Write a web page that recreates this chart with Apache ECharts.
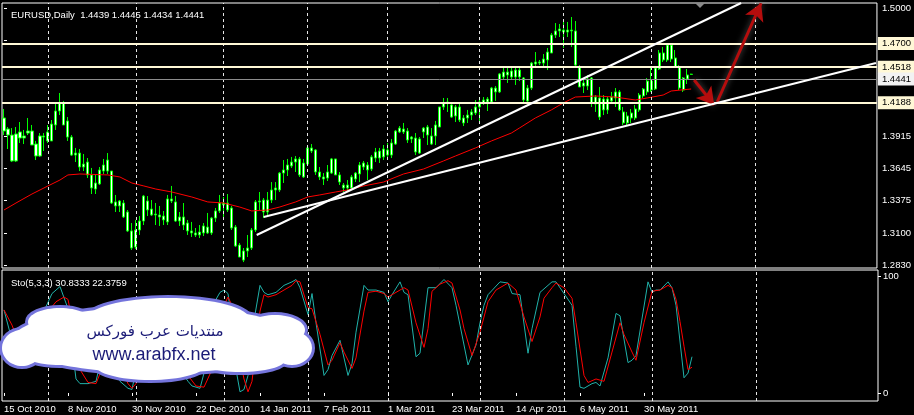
<!DOCTYPE html>
<html><head><meta charset="utf-8">
<script src="https://cdn.jsdelivr.net/npm/echarts@6/dist/echarts.min.js"></script>
<style>html,body{margin:0;padding:0;background:#000;overflow:hidden}#c{width:914px;height:415px}</style>
</head><body><div id="c"></div>
<script>
// ---------- DATA ----------
const openP = [1.4071,1.3978,1.3927,1.3708,1.3953,1.3902,1.3944,1.3961,1.3851,1.3750,1.3919,1.3953,1.3877,1.4012,1.4130,1.4198,1.4046,1.3910,1.3758,1.3775,
1.3657,1.3699,1.3590,1.3471,1.3514,1.3623,1.3716,1.3623,1.3362,1.3328,1.3353,1.3277,1.3117,1.2981,1.3125,1.3201,1.3370,1.3302,1.3260,1.3252,
1.3243,1.3193,1.3387,1.3362,1.3201,1.3235,1.3184,1.3117,1.3100,1.3083,1.3100,1.3150,1.3100,1.3226,1.3286,1.3353,1.3353,1.3311,1.3150,1.2998,
1.2871,1.2948,1.2973,1.3125,1.3362,1.3378,1.3277,1.3378,1.3463,1.3463,1.3606,1.3632,1.3666,1.3699,1.3725,1.3573,1.3682,1.3818,1.3801,1.3615,
1.3573,1.3564,1.3606,1.3725,1.3590,1.3505,1.3480,1.3480,1.3556,1.3598,1.3657,1.3674,1.3640,1.3733,1.3792,1.3742,1.3801,1.3758,1.3851,1.3953,
1.3978,1.3961,1.3894,1.3902,1.3775,1.3953,1.3995,1.3919,1.3919,1.3995,1.4164,1.4198,1.4181,1.4088,1.4164,1.4071,1.4071,1.4096,1.4113,1.4164,
1.4198,1.4206,1.4206,1.4324,1.4291,1.4417,1.4459,1.4468,1.4417,1.4476,1.4409,1.4215,1.4324,1.4527,1.4544,1.4535,1.4561,1.4620,1.4772,1.4806,
1.4814,1.4797,1.4814,1.4806,1.4501,1.4341,1.4341,1.4409,1.4189,1.4240,1.4139,1.4231,1.4215,1.4240,1.4291,1.4122,1.4029,1.4071,1.4071,1.4139,
1.4257,1.4291,1.4383,1.4316,1.4485,1.4620,1.4561,1.4687,1.4578,1.4501,1.4307,1.4400,1.4439];
const closeP = [1.3961,1.3927,1.3708,1.3936,1.3902,1.3919,1.3961,1.3843,1.3750,1.3919,1.3910,1.3877,1.4020,1.4130,1.4198,1.4012,1.3910,1.3758,1.3775,1.3657,
1.3682,1.3590,1.3480,1.3522,1.3632,1.3674,1.3623,1.3353,1.3328,1.3370,1.3235,1.3117,1.2973,1.3125,1.3201,1.3412,1.3294,1.3252,1.3252,1.3235,
1.3210,1.3387,1.3370,1.3201,1.3235,1.3167,1.3117,1.3100,1.3083,1.3108,1.3159,1.3100,1.3226,1.3286,1.3353,1.3336,1.3294,1.3142,1.2990,1.2897,
1.2948,1.2973,1.3125,1.3362,1.3370,1.3277,1.3378,1.3463,1.3480,1.3606,1.3632,1.3674,1.3699,1.3725,1.3590,1.3691,1.3818,1.3792,1.3615,1.3573,
1.3556,1.3615,1.3725,1.3590,1.3530,1.3480,1.3505,1.3573,1.3606,1.3674,1.3691,1.3632,1.3742,1.3784,1.3733,1.3809,1.3758,1.3860,1.3961,1.3986,
1.3953,1.3885,1.3910,1.3784,1.3894,1.3986,1.3927,1.3851,1.4012,1.4164,1.4198,1.4206,1.4079,1.4164,1.4054,1.4029,1.4096,1.4122,1.4164,1.4206,
1.4223,1.4231,1.4324,1.4291,1.4443,1.4459,1.4434,1.4417,1.4476,1.4417,1.4223,1.4324,1.4535,1.4544,1.4535,1.4569,1.4628,1.4772,1.4806,1.4823,
1.4797,1.4814,1.4806,1.4518,1.4333,1.4367,1.4400,1.4198,1.4248,1.4079,1.4231,1.4139,1.4248,1.4291,1.4139,1.4029,1.4088,1.4113,1.4147,1.4265,
1.4316,1.4383,1.4307,1.4493,1.4620,1.4561,1.4687,1.4569,1.4501,1.4324,1.4409,1.4434,1.4441];
const lowP = [1.3927,1.3809,1.3699,1.3699,1.3860,1.3851,1.3927,1.3843,1.3716,1.3742,1.3792,1.3860,1.3877,1.3970,1.4096,1.4012,1.3877,1.3750,1.3699,1.3623,
1.3623,1.3564,1.3429,1.3429,1.3505,1.3598,1.3598,1.3345,1.3277,1.3277,1.3226,1.3108,1.2956,1.2964,1.3083,1.3167,1.3243,1.3243,1.3167,1.3159,
1.3167,1.3167,1.3353,1.3193,1.3159,1.3125,1.3083,1.3066,1.3066,1.3057,1.3074,1.3091,1.3083,1.3193,1.3269,1.3235,1.3277,1.3125,1.2981,1.2897,
1.2854,1.2897,1.2956,1.3108,1.3294,1.3226,1.3252,1.3353,1.3378,1.3446,1.3522,1.3581,1.3649,1.3615,1.3573,1.3564,1.3674,1.3775,1.3590,1.3547,
1.3505,1.3539,1.3598,1.3590,1.3505,1.3446,1.3446,1.3463,1.3530,1.3530,1.3632,1.3547,1.3623,1.3699,1.3691,1.3716,1.3742,1.3733,1.3843,1.3944,
1.3936,1.3860,1.3860,1.3758,1.3767,1.3902,1.3843,1.3843,1.3843,1.3995,1.4139,1.4122,1.4071,1.4037,1.4037,1.4003,1.4029,1.4054,1.4096,1.4046,
1.4181,1.4130,1.4198,1.4215,1.4282,1.4400,1.4367,1.4392,1.4350,1.4383,1.4206,1.4198,1.4307,1.4493,1.4518,1.4501,1.4476,1.4620,1.4747,1.4755,
1.4662,1.4755,1.4671,1.4501,1.4333,1.4282,1.4307,1.4164,1.4122,1.4054,1.4096,1.4105,1.4198,1.4164,1.4130,1.4012,1.4012,1.4029,1.4054,1.4122,
1.4240,1.4265,1.4291,1.4307,1.4476,1.4544,1.4544,1.4544,1.4493,1.4307,1.4291,1.4358,1.4434];
const highP = [1.4147,1.3995,1.3986,1.3995,1.4037,1.3970,1.4071,1.4012,1.3877,1.3944,1.3944,1.4012,1.4054,1.4198,1.4282,1.4215,1.4079,1.3927,1.3818,1.3809,
1.3767,1.3733,1.3649,1.3590,1.3657,1.3725,1.3775,1.3623,1.3421,1.3378,1.3378,1.3294,1.3184,1.3210,1.3243,1.3421,1.3412,1.3378,1.3353,1.3328,
1.3286,1.3421,1.3497,1.3412,1.3277,1.3353,1.3210,1.3193,1.3142,1.3167,1.3184,1.3269,1.3235,1.3311,1.3421,1.3404,1.3429,1.3328,1.3167,1.3015,
1.2973,1.3083,1.3142,1.3378,1.3446,1.3395,1.3446,1.3530,1.3530,1.3615,1.3716,1.3725,1.3742,1.3750,1.3742,1.3725,1.3834,1.3851,1.3809,1.3657,
1.3606,1.3674,1.3733,1.3725,1.3615,1.3522,1.3547,1.3590,1.3615,1.3699,1.3708,1.3699,1.3758,1.3818,1.3818,1.3843,1.3860,1.3894,1.3970,1.4003,
1.4029,1.3986,1.3919,1.3944,1.3910,1.3995,1.4012,1.3986,1.4046,1.4164,1.4240,1.4240,1.4198,1.4181,1.4206,1.4096,1.4139,1.4147,1.4223,1.4248,
1.4248,1.4248,1.4333,1.4341,1.4451,1.4493,1.4501,1.4501,1.4510,1.4501,1.4417,1.4350,1.4544,1.4628,1.4561,1.4611,1.4662,1.4789,1.4873,1.4865,
1.4882,1.4882,1.4924,1.4890,1.4518,1.4409,1.4434,1.4417,1.4265,1.4333,1.4265,1.4248,1.4291,1.4324,1.4307,1.4164,1.4122,1.4147,1.4181,1.4282,
1.4324,1.4409,1.4501,1.4510,1.4645,1.4671,1.4696,1.4704,1.4645,1.4518,1.4417,1.4485,1.4445];

// moving average read at sampled bars: [bar index, price]
const maPoints = [[0,1.3294],[3,1.3353],[7,1.3429],[11,1.3497],[14,1.3547],[16,1.3590],[19,1.3598],[26,1.3590],[29,1.3573],[32,1.3522],
[35,1.3497],[38,1.3471],[42,1.3446],[47,1.3404],[51,1.3362],[55,1.3353],[59,1.3319],[62,1.3286],[66,1.3294],[69,1.3319],[73,1.3362],
[76,1.3404],[79,1.3421],[83,1.3446],[86,1.3463],[90,1.3497],[95,1.3530],[100,1.3598],[105,1.3640],[110,1.3708],[113,1.3750],[118,1.3818],
[122,1.3877],[127,1.3944],[129,1.3986],[133,1.4071],[137,1.4139],[140,1.4198],[143,1.4248],[148,1.4257],[153,1.4248],[158,1.4223],
[161,1.4240],[165,1.4265],[167,1.4299],[172,1.4316]];

// stochastic main (%K) and signal (%D): [bar index, value]
const stoK = [[0,71],[2,45],[3,26],[4,30],[6,58],[8,62],[10,70],[12,85],[14,91],[16,72],[17,40],[18,12],[19,8],[21,8],[23,10],[25,40],[26,50],[27,30],[29,10],[31,4],[32,3],[33,20],[34,50],[35,75],[36,82],[37,80],[38,60],[40,40],[42,35],[44,20],[46,10],[47,6],[48,5],[49,4],[51,30],[53,80],[54,86],[55,88],[56,85],[57,60],[58,20],[59,1],[60,3],[61,15],[62,52],[64,92],[65,86],[66,84],[68,86],[70,92],[72,95],[73,97],[74,90],[76,67],[77,85],[78,60],[80,15],[81,20],[82,32],[84,45],[86,15],[87,25],[88,52],[90,92],[91,88],[93,88],[95,86],[96,78],[97,84],[99,95],[100,86],[101,84],[103,31],[104,34],[106,90],[108,90],[110,97],[112,90],[113,75],[114,58],[116,24],[118,41],[119,60],[120,75],[121,84],[124,95],[126,94],[127,85],[129,84],[131,34],[132,55],[134,86],[137,95],[138,95],[140,85],[142,75],[143,40],[144,5],[145,4],[147,8],[148,9],[149,6],[151,30],[153,68],[154,66],[156,26],[157,28],[158,32],[161,95],[162,86],[163,88],[164,88],[166,95],[167,90],[168,75],[170,13],[171,17],[172,31]];
const stoD = [[0,71],[2,58],[4,40],[6,45],[8,55],[10,65],[13,78],[15,82],[16,80],[18,45],[19,20],[21,9],[23,8],[25,25],[27,40],[29,25],[31,8],[32,4],[33,8],[35,45],[36,70],[37,78],[38,70],[40,50],[43,35],[46,15],[48,6],[50,5],[52,20],[54,60],[55,75],[56,82],[57,75],[58,45],[60,12],[61,1],[62,10],[63,40],[64,70],[65,84],[66,82],[68,84],[70,88],[72,92],[73,96],[74,95],[76,73],[77,72],[79,50],[81,24],[82,28],[84,43],[85,35],[87,21],[88,30],[90,70],[91,86],[93,87],[95,85],[96,82],[98,86],[100,90],[101,88],[103,60],[105,39],[106,55],[107,87],[109,93],[111,96],[112,94],[114,71],[115,55],[117,32],[119,52],[121,78],[123,88],[126,94],[128,88],[130,65],[132,44],[134,65],[135,81],[137,90],[138,94],[140,90],[142,81],[143,60],[145,15],[146,9],[148,12],[150,10],[152,35],[154,60],[155,50],[157,35],[158,28],[160,60],[162,87],[164,88],[166,92],[167,90],[168,80],[169,61],[170,40],[171,20],[172,22]];

// drawn objects (bar index, price)
const trendUpper = [[63.25,1.3083],[184.5,1.5042]];
const trendLower = [[65,1.3235],[218.25,1.4535]];
const arrowDown = [[172.75,1.4392],[177.75,1.4181]];
const arrowUp = [[178.5,1.4206],[189.5,1.5040]];
const levelLines = [1.4700, 1.4518, 1.4188];
const bidLine = 1.4441;
const priceTicks = [1.2830,1.3100,1.3375,1.3645,1.3915,1.4730,1.5000];
const stoTicks = [0,100];
const titleText = 'EURUSD,Daily  1.4439 1.4445 1.4434 1.4441';
const stoText = 'Sto(5,3,3) 30.8333 22.3759';
const firstDay = [2010, 9, 15];
const skipDays = ['2010-12-24'];
const totalSlots = 219;

// ---------- CATEGORIES ----------
const MON = ['Jan','Feb','Mar','Apr','May','Jun','Jul','Aug','Sep','Oct','Nov','Dec'];
const nBars = openP.length;
const LAST = nBars - 1;
const dates = [];
(function(){
  let d = new Date(Date.UTC(firstDay[0], firstDay[1], firstDay[2]));
  while (dates.length < nBars) {
    const wd = d.getUTCDay(), key = d.toISOString().slice(0,10);
    if (wd !== 0 && wd !== 6 && skipDays.indexOf(key) < 0) dates.push(new Date(d));
    d.setUTCDate(d.getUTCDate()+1);
  }
  while (dates.length < totalSlots) { dates.push(new Date(d)); d.setUTCDate(d.getUTCDate()+1); }
})();
const cats = dates.map(d => d.getUTCDate()+' '+MON[d.getUTCMonth()]+' '+d.getUTCFullYear());
const monthStarts = [];
for (let i=1;i<dates.length;i++) if (dates[i].getUTCMonth()!==dates[i-1].getUTCMonth()) monthStarts.push(cats[i]);

const candles = openP.map((o,i)=>[o, closeP[i], lowP[i], highP[i]]);

const FONT = 'Liberation Sans';
const vLines = {silent:true, symbol:'none', animation:false, label:{show:false},
  lineStyle:{color:'#ffffff', type:[3,3], width:1, opacity:0.9},
  data: monthStarts.map(c=>({xAxis:c}))};

const chart = echarts.init(document.getElementById('c'), null, {renderer:'canvas'});
const option = {
  backgroundColor:'#000000',
  animation:false,
  title:[
    {text:titleText, left:6, top:5, textStyle:{color:'#ffffff', fontSize:9.5, fontWeight:'normal', fontFamily:FONT}},
    {text:stoText, left:6, top:273, textStyle:{color:'#ffffff', fontSize:9.5, fontWeight:'normal', fontFamily:FONT}}
  ],
  grid:[
    {left:2, right:36, top:3, height:265, show:true, borderColor:'#ffffff', borderWidth:1, backgroundColor:'transparent'},
    {left:2, right:36, top:270, height:131, show:true, borderColor:'#ffffff', borderWidth:1, backgroundColor:'transparent'}
  ],
  xAxis:[
    {type:'category', gridIndex:0, data:cats, boundaryGap:true, axisLine:{show:false}, axisTick:{show:false}, axisLabel:{show:false}, splitLine:{show:false}},
    {type:'category', gridIndex:1, data:cats, boundaryGap:true, axisLine:{show:false},
      axisTick:{show:true, alignWithLabel:true, length:3, lineStyle:{color:'#ffffff'}, interval:(i)=> i%16===0 && i<=LAST},
      axisLabel:{show:true, color:'#ffffff', fontSize:9.5, fontFamily:FONT, align:'left', margin:3, interval:(i)=> i%16===0 && i<=LAST},
      splitLine:{show:false}},
    {type:'value', gridIndex:0, min:-0.5, max:totalSlots-0.5, show:false}
  ],
  yAxis:[
    {type:'value', gridIndex:0, position:'right', min:1.28041, max:1.50422, splitLine:{show:false}, axisLine:{show:false},
      axisTick:{show:true, length:3, lineStyle:{color:'#ffffff'}, customValues:priceTicks},
      axisLabel:{color:'#ffffff', fontSize:9.5, fontFamily:FONT, margin:5, customValues:priceTicks, formatter:v=>Number(v).toFixed(4)}},
    {type:'value', gridIndex:1, position:'right', min:-6.84, max:105.13, splitLine:{show:false}, axisLine:{show:false},
      axisTick:{show:true, length:3, lineStyle:{color:'#ffffff'}, customValues:stoTicks},
      axisLabel:{color:'#ffffff', fontSize:9.5, fontFamily:FONT, margin:5, customValues:stoTicks, formatter:v=>String(Math.round(v))}}
  ],
  series:[
    {type:'candlestick', name:'EURUSD', xAxisIndex:0, yAxisIndex:0, data:candles, barWidth:2.6,
      itemStyle:{color:'#ffffff', color0:'#ffffff', borderColor:'#00ff00', borderColor0:'#00ff00', borderWidth:1},
      markLine:vLines, z:3},
    {type:'line', name:'MA', xAxisIndex:0, yAxisIndex:0, data:maPoints, symbol:'none', lineStyle:{color:'#ff0000', width:1}, z:4},
    {type:'line', name:'trend1', xAxisIndex:2, yAxisIndex:0, data:trendUpper, symbol:'none', lineStyle:{color:'#ffffff', width:2}, z:5,
      markLine:{silent:true, animation:false, symbol:'none',
        data:[
          ...levelLines.map(v=>({yAxis:v, lineStyle:{color:'#fff8d6', width:2, type:'solid'},
             label:{show:true, position:'end', distance:1, formatter:v.toFixed(4), color:'#000000', backgroundColor:'#fff8d6', padding:[2,4,1,4], fontSize:9.5, fontFamily:FONT}})),
          {yAxis:bidLine, lineStyle:{color:'#8c8c8c', width:1, type:'solid'},
             label:{show:true, position:'end', distance:1, formatter:bidLine.toFixed(4), color:'#000000', backgroundColor:'#f2f2f2', padding:[2,4,1,4], fontSize:9.5, fontFamily:FONT}}
        ]}},
    {type:'line', name:'trend2', xAxisIndex:2, yAxisIndex:0, data:trendLower, symbol:'none', lineStyle:{color:'#ffffff', width:2}, z:5,
      markLine:{silent:true, animation:false, symbol:['none','arrow'], symbolSize:[15,17],
        lineStyle:{color:'#b50d0d', width:3, type:'solid', shadowBlur:6, shadowColor:'rgba(255,255,255,0.35)'},
        label:{show:false},
        data:[
          [{coord:arrowDown[0]},{coord:arrowDown[1]}],
          [{coord:arrowUp[0]},{coord:arrowUp[1]}]
        ]}},
    {type:'line', name:'%K', xAxisIndex:1, yAxisIndex:1, data:stoK, symbol:'none', lineStyle:{color:'#20b2aa', width:1}, markLine:vLines, z:3},
    {type:'line', name:'%D', xAxisIndex:1, yAxisIndex:1, data:stoD, symbol:'none', lineStyle:{color:'#ff0000', width:1}, z:4}
  ],
  graphic:[]
};

// cloud logo (decoration) built from overlapping ellipses
const cloudParts = [[157,340,145,33],[60,322,32,14],[168,320,82,22],[275,330,30,15],[22,348,20,18],[292,348,20,17],[60,352,40,13],[150,365,55,15],[240,360,45,12]];
const g = [];
cloudParts.forEach(p=>g.push({type:'ellipse', shape:{cx:p[0],cy:p[1],rx:p[2],ry:p[3]}, style:{fill:'#ffffff', stroke:'#7474dc', lineWidth:6}, z:100, silent:true}));
cloudParts.forEach(p=>g.push({type:'ellipse', shape:{cx:p[0],cy:p[1],rx:p[2],ry:p[3]}, style:{fill:'#ffffff'}, z:101, silent:true}));
g.push({type:'text', x:155, y:332, z:102, silent:true, style:{text:'منتديات عرب فوركس', fill:'#1b1b77', font:'15px "DejaVu Sans"', align:'center', verticalAlign:'middle'}});
g.push({type:'text', x:154, y:355, z:102, silent:true, style:{text:'www.arabfx.net', fill:'#1b1b77', font:'18px "Liberation Sans"', align:'center', verticalAlign:'middle'}});
g.push({type:'polygon', shape:{points:[[695,3],[705,3],[700,8]]}, style:{fill:'#8a8a8a'}, z:50, silent:true});
option.graphic = g;
chart.setOption(option);
</script>
</body></html>
